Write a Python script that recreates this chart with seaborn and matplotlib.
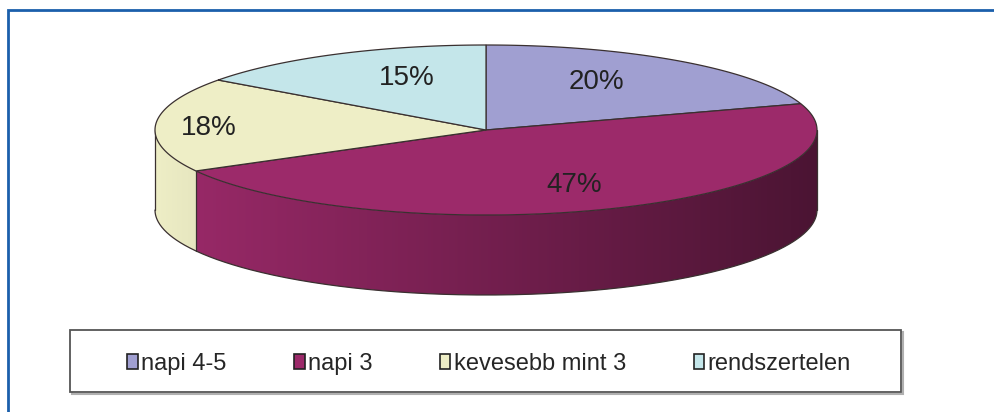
import numpy as np
import matplotlib
matplotlib.use("Agg")
import matplotlib.pyplot as plt
from matplotlib.patches import Polygon, Rectangle, Patch
from matplotlib.colors import to_rgb
import seaborn as sns

# ---- data ----
categories = ["napi 4-5", "napi 3", "kevesebb mint 3", "rendszertelen"]
values = [20, 47, 18, 15]
pct_labels = ["20%", "47%", "18%", "15%"]
colors = sns.color_palette(["#a09fd1", "#9c2a6a", "#eeeec6", "#c4e6ea"])

sns.set_theme(style="white")
plt.rcParams["font.family"] = ["Liberation Sans", "DejaVu Sans"]

fig = plt.figure(figsize=(9.94, 4.12), dpi=100)
ax = fig.add_axes([0, 0, 1, 1])
ax.set_xlim(0, 994)
ax.set_ylim(412, 0)
ax.axis("off")

# ---- layout of the 3D pie ----
cx, cy, rx, ry, depth = 486, 130, 331, 85, 80
edge = "#3a3030"


def pt(t_deg, dz=0.0, r=1.0):
    t = np.radians(t_deg)
    return cx + r * rx * np.cos(t), cy - r * ry * np.sin(t) + dz


total = float(sum(values))
bounds = [90.0]
for v in values:
    bounds.append(bounds[-1] - v / total * 360.0)

# ---- side faces (front half: angles -180..0), gradient-shaded ----
gx = np.linspace(0, 1, 600)
for i, v in enumerate(values):
    t_hi, t_lo = bounds[i], bounds[i + 1]
    a_hi, a_lo = min(t_hi, 0.0), max(t_lo, -180.0)
    if a_hi <= a_lo:
        continue
    ts = np.linspace(a_lo, a_hi, 200)
    xt, yt = pt(ts)
    xb, yb = pt(ts[::-1], dz=depth)
    verts = list(zip(xt, yt)) + list(zip(xb, yb))
    poly = Polygon(verts, closed=True, facecolor="none", edgecolor="none", zorder=2)
    ax.add_patch(poly)
    base = np.array(to_rgb(colors[i]))
    shade = 1.0 - 0.52 * gx
    img = np.clip(base[None, None, :] * shade[None, :, None], 0, 1)
    im = ax.imshow(img, extent=(cx - rx, cx + rx, cy + depth + ry + 2, cy - ry - 2),
                   aspect="auto", interpolation="bilinear", zorder=2)
    im.set_clip_path(poly)

ax.set_xlim(0, 994)
ax.set_ylim(412, 0)

# side outlines
ts = np.linspace(-180, 0, 400)
xs, ys = pt(ts, dz=depth)
ax.plot(xs, ys, color=edge, lw=0.9, zorder=3)
for t in (-180.0, 0.0):
    x0, y0 = pt(t)
    ax.plot([x0, x0], [y0, y0 + depth], color=edge, lw=0.9, zorder=3)
for b in bounds:
    bb = ((b + 180) % 360) - 180
    if -180 < bb < 0:
        x0, y0 = pt(bb)
        ax.plot([x0, x0], [y0, y0 + depth], color=edge, lw=0.9, zorder=3)

# ---- top faces ----
for i, v in enumerate(values):
    ts = np.linspace(bounds[i], bounds[i + 1], 200)
    xs, ys = pt(ts)
    verts = [(cx, cy)] + list(zip(xs, ys))
    ax.add_patch(Polygon(verts, closed=True, facecolor=colors[i],
                         edgecolor=edge, lw=0.9, zorder=4))

# ---- percentage labels ----
label_rx = [0.57, 0.67, 0.84, 0.53]
label_ry = [0.70, 0.70, 0.45, 0.69]
for i, lab in enumerate(pct_labels):
    mid = np.radians((bounds[i] + bounds[i + 1]) / 2)
    x = cx + label_rx[i] * rx * np.cos(mid)
    y = cy - label_ry[i] * ry * np.sin(mid)
    ax.text(x, y, lab, ha="center", va="center", fontsize=20,
            color="#222222", zorder=5)

# ---- legend ----
ax.add_patch(Rectangle((72, 332), 831, 62, facecolor="none",
                       edgecolor="#b0b0b0", lw=1.5, zorder=1))
ax.add_patch(Rectangle((70, 330), 831, 62, facecolor="white",
                       edgecolor="#555555", lw=1.3, zorder=1))
handles = [Patch(facecolor=c, edgecolor="#222222", lw=1.2) for c in colors]
ax.legend(handles, categories, loc="center",
          bbox_to_anchor=(489 / 994, 1 - 364 / 412), bbox_transform=fig.transFigure,
          ncol=4, frameon=False, fontsize=17, handlelength=0.45, handleheight=0.6,
          handletextpad=0.15, columnspacing=2.85, borderaxespad=0)

# ---- blue frame ----
ax.plot([8, 8, 994], [412, 10, 10], color="#1b5fab", lw=2.0, zorder=6,
        solid_joinstyle="miter")

fig.savefig("out.png", dpi=100)
